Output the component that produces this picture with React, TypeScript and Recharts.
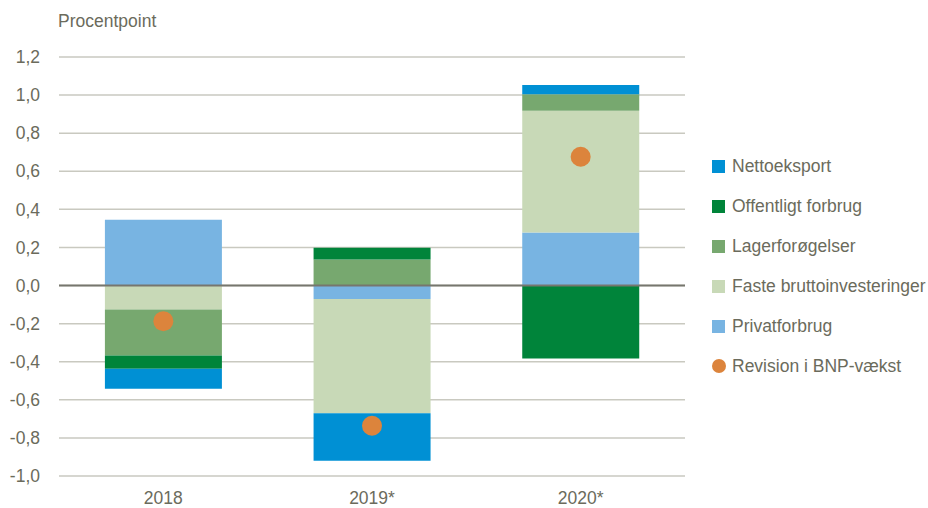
import { ComposedChart, Bar, Line, XAxis, YAxis, CartesianGrid, ReferenceLine } from "recharts";

const years = ["2018", "2019*", "2020*"];
const privatforbrug = [0.346, -0.071, 0.279];
const fasteInvesteringer = [-0.126, -0.6, 0.639];
const lagerforoegelser = [-0.241, 0.137, 0.086];
const offentligtForbrug = [-0.07, 0.061, -0.383];
const nettoeksport = [-0.105, -0.249, 0.049];
const revision = [-0.187, -0.736, 0.676];

const yTicks = [-1, -0.8, -0.6, -0.4, -0.2, 0, 0.2, 0.4, 0.6, 0.8, 1, 1.2];

const textColor = "#6b6b5c";
const font = "'Liberation Sans', Arial, sans-serif";

const series = [
  { key: "nettoeksport", name: "Nettoeksport", color: "#0090d4" },
  { key: "offentligt", name: "Offentligt forbrug", color: "#00843a" },
  { key: "lager", name: "Lagerforøgelser", color: "#77a86f" },
  { key: "faste", name: "Faste bruttoinvesteringer", color: "#c8d9b7" },
  { key: "privat", name: "Privatforbrug", color: "#78b4e2" },
];
const dotColor = "#dc843c";

const data = years.map((year, i) => ({
  year,
  privat: privatforbrug[i],
  faste: fasteInvesteringer[i],
  lager: lagerforoegelser[i],
  offentligt: offentligtForbrug[i],
  nettoeksport: nettoeksport[i],
  revision: revision[i],
}));

function LegendBox() {
  return (
    <div style={{ position: "absolute", left: 712, top: 146, fontFamily: font, fontSize: 17.5, color: textColor }}>
      {series.map((s) => (
        <div key={s.key} style={{ display: "flex", alignItems: "center", height: 40 }}>
          <span style={{ width: 13, height: 13, background: s.color, marginRight: 7, display: "inline-block" }} />
          {s.name}
        </div>
      ))}
      <div style={{ display: "flex", alignItems: "center", height: 40 }}>
        <span
          style={{ width: 14, height: 14, borderRadius: 7, background: dotColor, marginRight: 6, display: "inline-block" }}
        />
        Revision i BNP-vækst
      </div>
    </div>
  );
}

export default function App() {
  // bars stack from zero outward: privat first, nettoeksport last
  const stackOrder = [...series].reverse();
  return (
    <div style={{ position: "absolute", left: 0, top: 0, width: 928, height: 508, background: "#fff" }}>
      <div style={{ position: "absolute", left: 58, top: 11, fontFamily: font, fontSize: 17.5, color: textColor }}>
        Procentpoint
      </div>
      <ComposedChart
        width={928}
        height={508}
        data={data}
        stackOffset="sign"
        barCategoryGap="22%"
        margin={{ top: 57, right: 243, left: 0, bottom: 0 }}
      >
        <CartesianGrid vertical={false} stroke="#c9c9c0" strokeWidth={1.5} />
        <XAxis
          dataKey="year"
          height={32}
          axisLine={false}
          tickLine={false}
          tickSize={0}
          tickMargin={16}
          tick={{ fill: textColor, fontSize: 17.5, fontFamily: font }}
        />
        <YAxis
          width={59}
          domain={[-1, 1.2]}
          ticks={yTicks}
          interval={0}
          axisLine={false}
          tickLine={false}
          tickSize={0}
          tickMargin={19}
          tickFormatter={(v: number) => v.toFixed(1).replace(".", ",")}
          tick={{ fill: textColor, fontSize: 17.5, fontFamily: font }}
        />
        {stackOrder.map((s) => (
          <Bar key={s.key} dataKey={s.key} name={s.name} stackId="a" fill={s.color} isAnimationActive={false} />
        ))}
        <ReferenceLine y={0} stroke="#76766e" strokeWidth={2} />
        <Line
          dataKey="revision"
          name="Revision i BNP-vækst"
          stroke="none"
          dot={{ r: 10, fill: dotColor, stroke: "none" }}
          activeDot={false}
          isAnimationActive={false}
        />
      </ComposedChart>
      <LegendBox />
    </div>
  );
}
